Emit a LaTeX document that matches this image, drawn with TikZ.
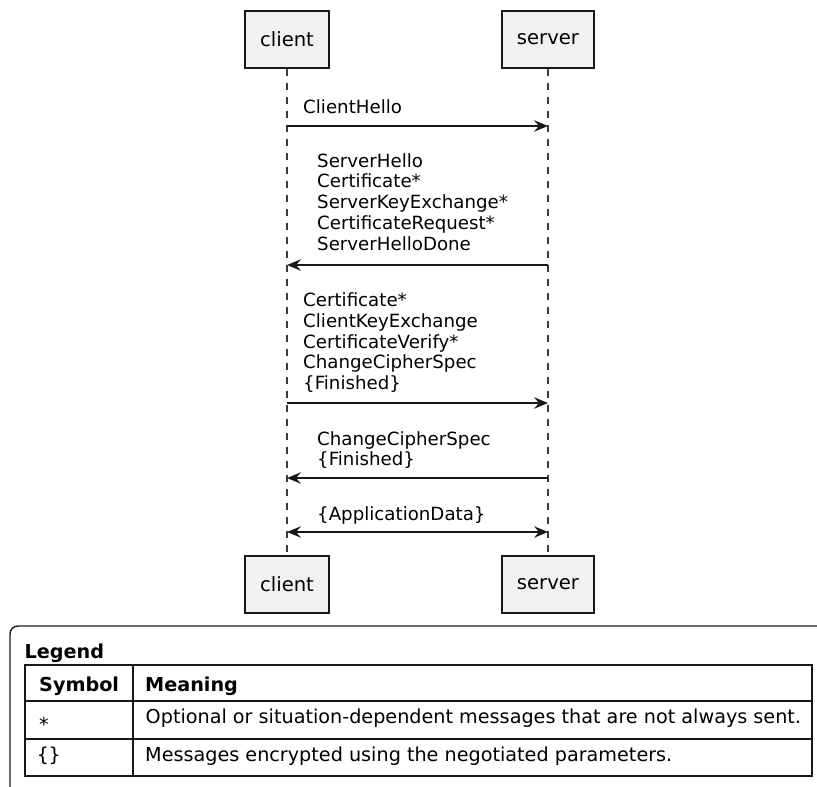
\documentclass[tikz,border=0pt]{standalone}
\usepackage{fontspec}
\setmainfont{DejaVu Sans}
\newfontfamily\symfont{DejaVu Sans Mono}
\usetikzlibrary{arrows.meta, positioning}

\definecolor{lineclr}{HTML}{181818}
\definecolor{boxfill}{HTML}{F1F1F1}

\tikzset{
  actorbox/.style={draw=lineclr, line width=2pt, fill=boxfill, minimum height=57pt,
    inner xsep=15pt, font=\fontsize{19.6}{22}\selectfont},
  lifeline/.style={draw=lineclr!85, line width=1.2pt, dash pattern=on 7pt off 7pt},
  msg/.style={draw=lineclr, line width=1.4pt},
  msglabel/.style={anchor=north west, inner sep=0pt, align=left,
    font=\fontsize{18.2}{20.8}\selectfont},
  legendtext/.style={anchor=base west, inner sep=0pt, font=\fontsize{19.2}{22}\selectfont},
  legendhead/.style={legendtext, font=\fontsize{19.2}{22}\selectfont\bfseries},
  >={Stealth[length=14pt, width=11.5pt, inset=5pt]}
}

\begin{document}
\begin{tikzpicture}[x=1pt, y=-1pt]
    \useasboundingbox (0,0) rectangle (817,787);
    % Participants and lifelines
    \foreach \p/\x in {client/287, server/548} {
      \node[actorbox] (\p-top) at (\x, 39.5) {\p};
      \node[actorbox] (\p-bot) at (\x, 584) {\p};
      \draw[lifeline] (\p-top) -- (\p-bot);
    }
    % Message rows on the lifelines
    \foreach \i/\y in {1/126, 2/265, 3/403, 4/478, 5/532} {
      \coordinate (c\i) at (287, \y);
      \coordinate (s\i) at (548, \y);
    }
    % Handshake messages
    \node[msglabel] (m1) at (303, 99) {ClientHello};
    \draw[msg, ->] (c1) -- (s1);
    \node[msglabel] (m2) at (317, 153)
      {ServerHello\\Certificate*\\ServerKeyExchange*\\CertificateRequest*\\ServerHelloDone};
    \draw[msg, ->] (s2) -- (c2);
    \node[msglabel] (m3) at (303, 292.5)
      {Certificate*\\ClientKeyExchange\\CertificateVerify*\\ChangeCipherSpec\\\{Finished\}};
    \draw[msg, ->] (c3) -- (s3);
    \node[msglabel] (m4) at (317, 431) {ChangeCipherSpec\\\{Finished\}};
    \draw[msg, ->] (s4) -- (c4);
    \node[msglabel] (m5) at (317, 506) {\{ApplicationData\}};
    \draw[msg, <->] (c5) -- (s5);
    % Legend
    \draw[lineclr, line width=1.4pt, rounded corners=8pt] (10,792) |- (822,626);
    \node[legendhead] (legend) at (24.5, 658) {Legend};
    \draw[lineclr, line width=1.4pt] (25,665) rectangle (812,776);
    \draw[lineclr, line width=1.4pt] (25,701) -- (812,701) (25,739) -- (812,739) (133,665) -- (133,776);
    \node[legendhead] (symhead) at (39, 691) {Symbol};
    \node[legendhead] (meanhead) at (145, 691) {Meaning};
    \node[legendtext] (sym1) at (39, 723) {\raisebox{-8pt}{*}};
    \node[legendtext] (mean1) at (145.5, 723) {Optional or situation-dependent messages that are not always sent.};
    \node[legendtext, font=\fontsize{19.2}{22}\selectfont\symfont] (sym2) at (37, 761) {\{\}};
    \node[legendtext] (mean2) at (145, 761) {Messages encrypted using the negotiated parameters.};
  \end{tikzpicture}
\end{document}
